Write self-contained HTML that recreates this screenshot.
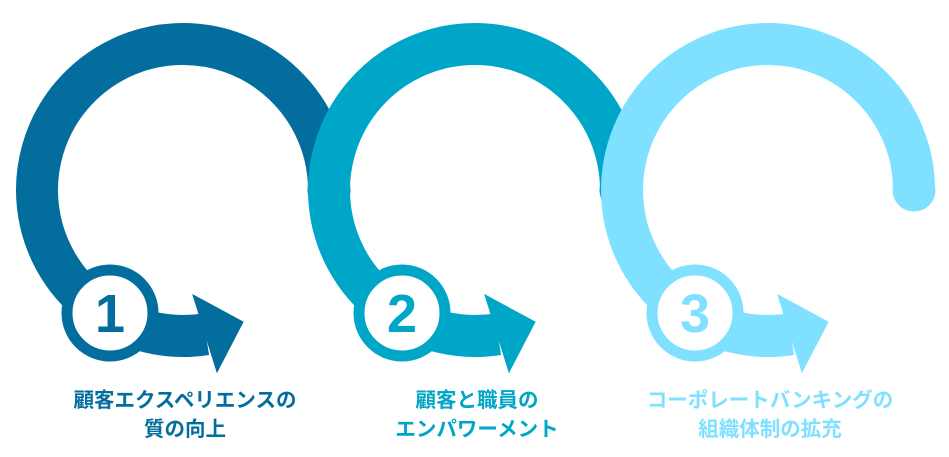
<!DOCTYPE html>
<html><head><meta charset="utf-8"><style>
html,body{margin:0;padding:0;background:#fff;}
body{width:949px;height:457px;overflow:hidden;position:relative;}
svg{position:absolute;left:0;top:0;}
.t{font-family:"Liberation Sans","Noto Sans CJK JP",sans-serif;font-weight:bold;font-size:20.5px;}
.n{font-family:"Liberation Sans",sans-serif;font-weight:bold;font-size:54px;}
</style></head><body>
<svg width="949" height="457" viewBox="0 0 949 457">
<defs>
<g id="arc">
<path d="M146 0 A146 146 0 1 0 22.8 144.2" fill="none" stroke-width="42"/>
<circle cx="146" cy="0" r="21"/>
<polygon points="10,105 60,132 34,182"/>
<circle cx="-73" cy="123" r="48"/>
<circle cx="-73" cy="123" r="38" fill="#fff"/>
</g>
</defs>
<g transform="translate(183,190)" fill="#036d9e" stroke="#036d9e"><use href="#arc"/></g>
<text x="110" y="332" text-anchor="middle" class="n" fill="#036d9e">1</text>
<g transform="translate(475,190)" fill="#00a6c8" stroke="#00a6c8"><use href="#arc"/></g>
<text x="402" y="332" text-anchor="middle" class="n" fill="#00a6c8">2</text>
<g transform="translate(768,190)" fill="#80e0ff" stroke="#80e0ff"><use href="#arc"/></g>
<text x="695" y="332" text-anchor="middle" class="n" fill="#80e0ff">3</text>
<text x="185" y="407" text-anchor="middle" class="t" fill="#036d9e">顧客エクスペリエンスの</text>
<text x="185" y="436" text-anchor="middle" class="t" fill="#036d9e">質の向上</text>
<text x="477" y="407" text-anchor="middle" class="t" fill="#00a6c8">顧客と職員の</text>
<text x="477" y="436" text-anchor="middle" class="t" fill="#00a6c8">エンパワーメント</text>
<text x="770" y="407" text-anchor="middle" class="t" fill="#80e0ff">コーポレートバンキングの</text>
<text x="770" y="436" text-anchor="middle" class="t" fill="#80e0ff">組織体制の拡充</text>
</svg>
</body></html>
